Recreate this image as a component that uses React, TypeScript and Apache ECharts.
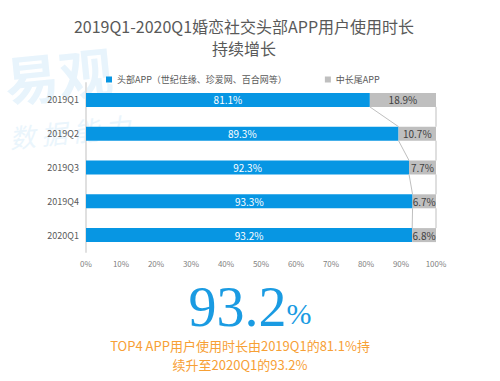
import React, { useEffect, useRef } from "react";
import * as echarts from "echarts";

const categories = ["2019Q1", "2019Q2", "2019Q3", "2019Q4", "2020Q1"];
const headValues = [81.1, 89.3, 92.3, 93.3, 93.2];
const tailValues = [18.9, 10.7, 7.7, 6.7, 6.8];
const seriesNames = ["头部APP（世纪佳缘、珍爱网、百合网等）", "中长尾APP"];
const xTicks = [0, 10, 20, 30, 40, 50, 60, 70, 80, 90, 100];
const titleLines = ["2019Q1-2020Q1婚恋社交头部APP用户使用时长", "持续增长"];
const bigNumber = "93.2";
const noteLines = ["TOP4 APP用户使用时长由2019Q1的81.1%持", "续升至2020Q1的93.2%"];

const FONT = "'Noto Sans CJK SC', 'DejaVu Sans', sans-serif";
const BLUE = "#0796e3";
const GRAY = "#bfbfbf";
const BAR_H = 14;

export default function App() {
  const ref = useRef<HTMLDivElement>(null);
  useEffect(() => {
    if (!ref.current) return;
    const chart = echarts.init(ref.current, null, { renderer: "svg" });

    const linkHead = headValues.slice(1).map((v, i) => [headValues[i], v, i + 1]);
    const linkTail = headValues.slice(1).map((_, i) => [
      headValues[i] + tailValues[i],
      headValues[i + 1] + tailValues[i + 1],
      i + 1,
    ]);

    const renderLink = (params: any, api: any) => {
      const idx = api.value(2);
      const p1 = api.coord([api.value(0), idx - 1]);
      const p2 = api.coord([api.value(1), idx]);
      return {
        type: "line",
        shape: { x1: p1[0], y1: p1[1] + BAR_H / 2, x2: p2[0], y2: p2[1] - BAR_H / 2 },
        style: { stroke: GRAY, lineWidth: 1 },
      };
    };

    const titleStyle = {
      fontFamily: FONT,
      fontSize: 16,
      lineHeight: 18,
      fontWeight: "normal",
      fill: "#595959",
      align: "center",
      verticalAlign: "middle",
    };
    const noteStyle = {
      fontFamily: FONT,
      fontSize: 13,
      lineHeight: 15,
      fill: "#f7a035",
      align: "center",
      verticalAlign: "middle",
    };

    chart.setOption({
      animation: false,
      textStyle: { fontFamily: FONT },
      legend: {
        top: 70,
        left: 101,
        itemWidth: 6,
        itemHeight: 6,
        itemGap: 38,
        icon: "rect",
        textStyle: { fontSize: 9, color: "#595959", fontFamily: FONT },
        data: seriesNames,
      },
      grid: { left: 86, right: 64, top: 83, bottom: 129, containLabel: false },
      xAxis: {
        type: "value",
        min: 0,
        max: 100,
        interval: 10,
        axisLine: { show: false },
        axisTick: { show: false },
        splitLine: { show: false },
        axisLabel: {
          fontSize: 8,
          color: "#7f7f7f",
          margin: 7,
          formatter: (v: number) => (xTicks.includes(v) ? v + "%" : ""),
        },
      },
      yAxis: {
        type: "category",
        inverse: true,
        data: categories,
        axisLine: { show: true, lineStyle: { color: "#e0e0e0", width: 2 } },
        axisTick: { show: false },
        axisLabel: { fontSize: 9, color: "#595959", margin: 7 },
      },
      series: [
        {
          name: seriesNames[0],
          type: "bar",
          stack: "s",
          data: headValues,
          barWidth: BAR_H,
          itemStyle: { color: BLUE },
          label: {
            show: true,
            position: "inside",
            color: "#ffffff",
            fontSize: 10,
            formatter: (p: any) => p.value.toFixed(1) + "%",
          },
        },
        {
          name: seriesNames[1],
          type: "bar",
          stack: "s",
          data: tailValues,
          barWidth: BAR_H,
          itemStyle: { color: GRAY },
          label: {
            show: true,
            position: "inside",
            color: "#404040",
            fontSize: 10,
            formatter: (p: any) => p.value.toFixed(1) + "%",
          },
        },
        {
          type: "custom",
          renderItem: renderLink,
          data: linkHead,
          encode: { x: [0, 1], y: 2 },
          silent: true,
          z: 5,
        },
        {
          type: "custom",
          renderItem: renderLink,
          data: linkTail,
          encode: { x: [0, 1], y: 2 },
          silent: true,
          z: 5,
        },
      ],
      graphic: [
        {
          type: "text",
          x: 2,
          y: 52,
          rotation: 0.1,
          z: -10,
          style: {
            text: "易观",
            fontSize: 54,
            fontWeight: "bold",
            fontFamily: FONT,
            fill: "#e8f4fc",
          },
        },
        {
          type: "text",
          x: 8,
          y: 124,
          rotation: 0.1,
          z: -10,
          style: {
            text: "数 据 能 力",
            fontSize: 26,
            fontStyle: "italic",
            fontFamily: FONT,
            fill: "#eaf5fc",
          },
        },
        { type: "text", x: 244, y: 26, style: { ...titleStyle, text: titleLines[0] } },
        { type: "text", x: 244, y: 48, style: { ...titleStyle, text: titleLines[1] } },
        {
          type: "text",
          x: 250,
          y: 307,
          style: {
            text: "{a|" + bigNumber + "}{b|%}",
            align: "center",
            verticalAlign: "middle",
            rich: {
              a: {
                fontSize: 56,
                lineHeight: 40,
                fontFamily: "'Liberation Serif', serif",
                fill: "#1a9be2",
                color: "#1a9be2",
              },
              b: {
                fontSize: 30,
                lineHeight: 40,
                fontFamily: "'Liberation Serif', serif",
                fill: "#1a9be2",
                color: "#1a9be2",
                padding: [12, 0, 0, 0],
              },
            },
          },
        },
        { type: "text", x: 240, y: 345, style: { ...noteStyle, text: noteLines[0] } },
        { type: "text", x: 240, y: 364, style: { ...noteStyle, text: noteLines[1] } },
      ],
    });
    return () => chart.dispose();
  }, []);
  return (
    <div
      ref={ref}
      style={{ position: "absolute", left: 0, top: 0, width: 500, height: 381 }}
    />
  );
}
